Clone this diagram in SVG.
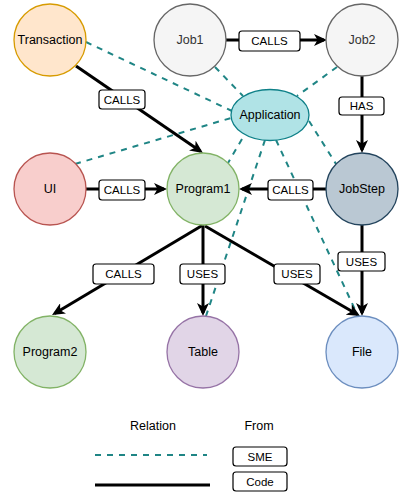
<svg xmlns="http://www.w3.org/2000/svg" width="413" height="503" viewBox="0 0 413 503">
<style>
.n{stroke-width:1.3}
.t{font-family:"Liberation Sans",Arial,sans-serif;font-size:12.5px;text-anchor:middle;dominant-baseline:central;fill:#000}
.lt{font-family:"Liberation Sans",Arial,sans-serif;font-size:11.5px;text-anchor:middle;dominant-baseline:central;fill:#000}
.code{fill:none;stroke:#000;stroke-width:3}
.sme{fill:none;stroke:#1f8585;stroke-width:2;stroke-dasharray:6 6}
.lb{fill:#fff;stroke:#000;stroke-width:1.2}
</style>
<defs>
<marker id="ah" markerUnits="userSpaceOnUse" markerWidth="14" markerHeight="12" viewBox="0 0 14 12" refX="10" refY="6" orient="auto">
<path d="M0,0 L13,6 L0,12 L3.5,6 Z" fill="#000"/>
</marker>
</defs>
<rect width="413" height="503" fill="#fff"/>
<g id="connectors">
<line class="sme" x1="86" y1="42" x2="232" y2="111"/>
<line class="sme" x1="215" y1="67" x2="243" y2="96"/>
<line class="sme" x1="337" y1="67" x2="297" y2="96"/>
<line class="sme" x1="75" y1="164" x2="231" y2="118"/>
<line class="sme" x1="242" y1="139" x2="228" y2="163"/>
<line class="sme" x1="265" y1="140" x2="206" y2="316"/>
<line class="sme" x1="276" y1="140" x2="358" y2="316"/>
<line class="sme" x1="309" y1="121" x2="336" y2="164"/>
<line class="code" x1="76" y1="66" x2="200.5" y2="151.3" marker-end="url(#ah)"/>
<line class="code" x1="226" y1="40" x2="324" y2="40" marker-end="url(#ah)"/>
<line class="code" x1="362" y1="76" x2="362" y2="150" marker-end="url(#ah)"/>
<line class="code" x1="86" y1="189" x2="164" y2="189" marker-end="url(#ah)"/>
<line class="code" x1="327" y1="189" x2="242" y2="189" marker-end="url(#ah)"/>
<line class="code" x1="203" y1="225" x2="54.6" y2="313.5" marker-end="url(#ah)"/>
<line class="code" x1="203" y1="225" x2="203" y2="313" marker-end="url(#ah)"/>
<line class="code" x1="205" y1="226" x2="357.4" y2="314.5" marker-end="url(#ah)"/>
<line class="code" x1="362" y1="225" x2="362" y2="313" marker-end="url(#ah)"/>
<rect class="lb" x="99" y="90" width="46" height="19" rx="3"/><text class="lt" x="122" y="99.5">CALLS</text>
<rect class="lb" x="239" y="31" width="61" height="20" rx="3"/><text class="lt" x="269.5" y="41">CALLS</text>
<rect class="lb" x="339" y="97" width="45" height="18" rx="3"/><text class="lt" x="361.5" y="106">HAS</text>
<rect class="lb" x="99" y="180" width="46" height="20" rx="3"/><text class="lt" x="122" y="190">CALLS</text>
<rect class="lb" x="268" y="180" width="45" height="20" rx="3"/><text class="lt" x="290.5" y="190">CALLS</text>
<rect class="lb" x="93" y="264" width="61" height="20" rx="3"/><text class="lt" x="123.5" y="274">CALLS</text>
<rect class="lb" x="180" y="264" width="45" height="20" rx="3"/><text class="lt" x="202.5" y="274">USES</text>
<rect class="lb" x="274" y="264" width="46" height="20" rx="3"/><text class="lt" x="297" y="274">USES</text>
<rect class="lb" x="338" y="252" width="47" height="19" rx="3"/><text class="lt" x="361.5" y="261.5">USES</text>
</g>
<g id="Transaction"><circle class="n" cx="50" cy="40" r="36" fill="#ffe6cc" stroke="#d79b00"/><text class="t" x="50" y="40">Transaction</text></g>
<g id="Job1"><circle class="n" cx="190" cy="40" r="36" fill="#f5f5f5" stroke="#666666"/><text class="t" x="190" y="40" style="fill:#333">Job1</text></g>
<g id="Job2"><circle class="n" cx="362" cy="40" r="36" fill="#f5f5f5" stroke="#666666"/><text class="t" x="362" y="40" style="fill:#333">Job2</text></g>
<g id="Application"><ellipse class="n" cx="270" cy="115" rx="39" ry="25.5" fill="#b0e3e6" stroke="#0e8088"/><text class="t" x="270" y="115">Application</text></g>
<g id="UI"><circle class="n" cx="50" cy="189" r="36" fill="#f8cecc" stroke="#b85450"/><text class="t" x="50" y="189">UI</text></g>
<g id="Program1"><circle class="n" cx="203" cy="189" r="36" fill="#d5e8d4" stroke="#82b366"/><text class="t" x="203" y="189">Program1</text></g>
<g id="JobStep"><circle class="n" cx="362" cy="189" r="36" fill="#bac8d3" stroke="#23445d"/><text class="t" x="362" y="189">JobStep</text></g>
<g id="Program2"><circle class="n" cx="50" cy="352" r="36" fill="#d5e8d4" stroke="#82b366"/><text class="t" x="50" y="352">Program2</text></g>
<g id="Table"><circle class="n" cx="203" cy="352" r="36" fill="#e1d5e7" stroke="#9673a6"/><text class="t" x="203" y="352">Table</text></g>
<g id="File"><circle class="n" cx="362" cy="352" r="36" fill="#dae8fc" stroke="#6c8ebf"/><text class="t" x="362" y="352">File</text></g>
<g id="legend">
<text class="t" x="153" y="426">Relation</text>
<text class="t" x="259" y="426">From</text>
<line class="sme" x1="95" y1="455" x2="207" y2="455"/>
<line class="code" x1="95" y1="485" x2="210" y2="485"/>
<rect class="lb" x="233" y="447" width="54" height="19" rx="3"/><text class="lt" x="260" y="456.5">SME</text>
<rect class="lb" x="233" y="472" width="54" height="19" rx="3"/><text class="lt" x="260" y="481.5">Code</text>
</g>
</svg>
